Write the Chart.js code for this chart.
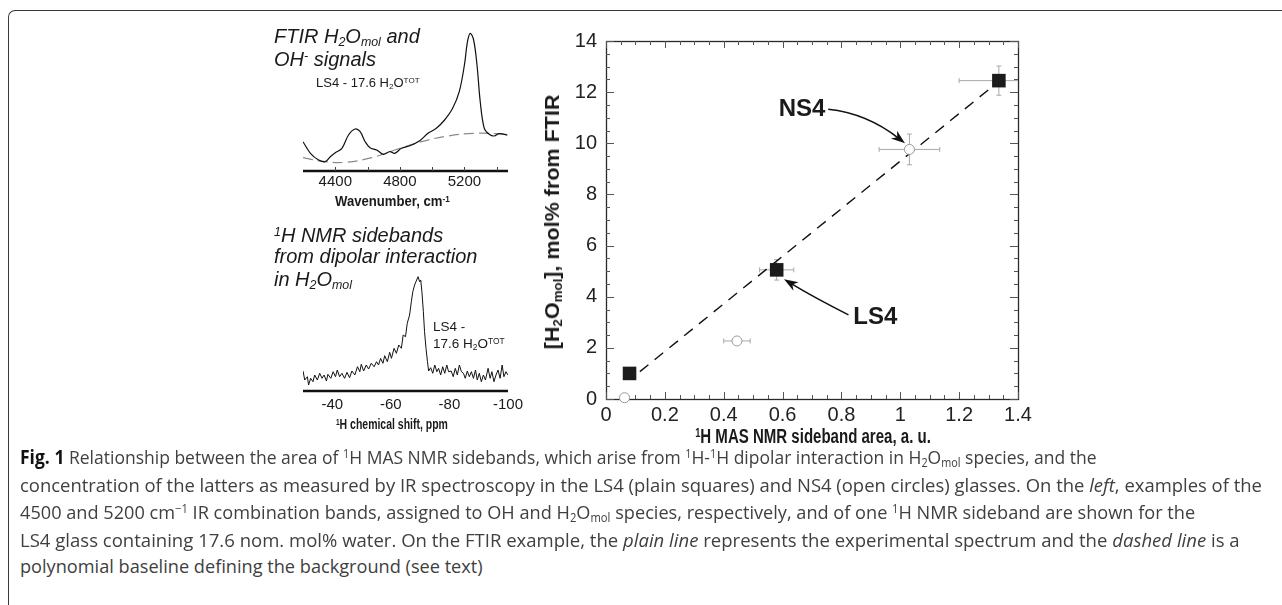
<!DOCTYPE html>
<html>
<head>
<meta charset="utf-8">
<title>Fig. 1</title>
<script src="https://cdn.jsdelivr.net/npm/chart.js@4.4.1/dist/chart.umd.min.js"></script>
<style>
  body { margin: 0; background: #fff; }
  #page { position: relative; width: 1282px; height: 605px; overflow: hidden; font-family: "Liberation Sans", Arial, sans-serif; color: #1a1a1a; }
  #frame { position: absolute; left: 8px; top: 10px; width: 1400px; height: 800px; border-left: 1.5px solid #3a3a3a; border-top: 1.5px solid #3a3a3a; border-top-left-radius: 7px; }
  canvas { position: absolute; }
  .t { position: absolute; white-space: nowrap; line-height: 1; transform-origin: 0 50%; }
  .it { font-style: italic; }
  .b { font-weight: bold; }
  sub { font-size: 0.62em; vertical-align: -0.28em; line-height: 0; }
  sup { font-size: 0.62em; vertical-align: 0.5em; line-height: 0; }
  .cap { font-family: "Open Sans", "Liberation Sans", sans-serif; font-size: 19px; color: #404040; }
  .cap b { color: #111; }
</style>
</head>
<body>
<div id="page">
  <div id="frame"></div>
  <canvas id="ftir" width="275" height="175" style="left:262px;top:20px"></canvas>
  <canvas id="nmr" width="275" height="175" style="left:262px;top:255px"></canvas>
  <canvas id="main" width="500" height="420" style="left:540px;top:20px"></canvas>

  <div class="t it" style="left:274px;top:26px;font-size:20px">FTIR H<sub>2</sub>O<sub>mol</sub> and</div>
  <div class="t it" style="left:274px;top:49px;font-size:20px">OH<sup>-</sup> signals</div>
  <div class="t" style="left:316px;top:76px;font-size:13px">LS4 - 17.6 H<sub>2</sub>O<sup>TOT</sup></div>
  <div class="t b" data-w="115" style="left:335px;top:194px;font-size:14.5px">Wavenumber, cm<sup>-1</sup></div>

  <div class="t it" style="left:274px;top:225px;font-size:20px"><sup>1</sup>H NMR sidebands</div>
  <div class="t it" style="left:274px;top:246px;font-size:20px">from dipolar interaction</div>
  <div class="t it" style="left:274px;top:269px;font-size:20px">in H<sub>2</sub>O<sub>mol</sub></div>
  <div class="t" style="left:433px;top:320px;font-size:13.5px">LS4 -</div>
  <div class="t" style="left:433px;top:337px;font-size:13.5px">17.6 H<sub>2</sub>O<sup>TOT</sup></div>
  <div class="t b" data-w="112" style="left:336px;top:417px;font-size:14.5px"><sup>1</sup>H chemical shift, ppm</div>

  <div class="t b" data-w="236" data-c="1" style="left:813px;top:426px;font-size:20px"><sup>1</sup>H MAS NMR sideband area, a. u.</div>
  <div class="t b" data-w="255" data-r="1" style="left:552px;top:222px;font-size:20px">[H<sub>2</sub>O<sub>mol</sub>], mol% from FTIR</div>

  <div class="t cap" data-w="1077" style="left:20px;top:448px"><b>Fig. 1</b> Relationship between the area of <sup>1</sup>H MAS NMR sidebands, which arise from <sup>1</sup>H-<sup>1</sup>H dipolar interaction in H<sub>2</sub>O<sub>mol</sub> species, and the</div>
  <div class="t cap" data-w="1242" style="left:20px;top:476px">concentration of the latters as measured by IR spectroscopy in the LS4 (plain squares) and NS4 (open circles) glasses. On the <i>left</i>, examples of the</div>
  <div class="t cap" data-w="1175" style="left:20px;top:503px">4500 and 5200 cm<sup>−1</sup> IR combination bands, assigned to OH and H<sub>2</sub>O<sub>mol</sub> species, respectively, and of one <sup>1</sup>H NMR sideband are shown for the</div>
  <div class="t cap" data-w="1220" style="left:20px;top:531px">LS4 glass containing 17.6 nom. mol% water. On the FTIR example, the <i>plain line</i> represents the experimental spectrum and the <i>dashed line</i> is a</div>
  <div class="t cap" style="left:20px;top:557px">polynomial baseline defining the background (see text)</div>
</div>
<script>
// ---- main plot: H2Omol from FTIR vs 1H MAS NMR sideband area ----
const ls4Area = [0.08, 0.58, 1.335];
const ls4H2O = [1.0, 5.05, 12.45];
const ls4AreaErr = [0, 0.058, 0.135];
const ls4H2OErr = [0, 0.40, 0.57];
const ns4Area = [0.063, 0.445, 1.031];
const ns4H2O = [0.05, 2.27, 9.76];
const ns4AreaErr = [0, 0.045, 0.103];
const ns4H2OErr = [0, 0, 0.60];
const fitArea = [0.115, 1.32];
const fitH2O = [1.07, 12.28];
const areaTicks = [0, 0.2, 0.4, 0.6, 0.8, 1, 1.2, 1.4];
const h2oTicks = [0, 2, 4, 6, 8, 10, 12, 14];

// ---- FTIR inset ----
const ftirWn = [4200, 4246, 4297, 4338, 4369, 4400, 4441, 4482, 4523, 4554, 4585, 4615, 4657, 4697, 4738, 4769,
  4810, 4862, 4923, 4974, 5026, 5077, 5127, 5168, 5200, 5219, 5236, 5257, 5278, 5298, 5323, 5354, 5385, 5415, 5466];
const ftirAbs = [0.293, 0.177, 0.11, 0.093, 0.143, 0.183, 0.227, 0.36, 0.42, 0.393, 0.293, 0.233, 0.21, 0.167, 0.193, 0.177,
  0.227, 0.253, 0.303, 0.377, 0.427, 0.51, 0.627, 0.793, 1.06, 1.293, 1.377, 1.31, 1.06, 0.693, 0.427, 0.367, 0.35, 0.373, 0.36];
const baseWn = [4200, 4338, 4462, 4626, 4769, 4934, 5097, 5262, 5466];
const baseAbs = [0.133, 0.093, 0.087, 0.133, 0.21, 0.293, 0.35, 0.377, 0.37];
const ftirTicks = [4400, 4800, 5200];
const ftirMinor = [4400, 4600, 4800, 5000, 5200, 5400];

// ---- 1H NMR sideband inset ----
const nmrShift = [-30.0, -30.6, -31.5, -31.9, -32.6, -33.4, -34.0, -34.9, -35.7, -36.5, -37.2, -38.0, -38.5, -39.5,
  -40.3, -41.1, -41.7, -42.5, -43.3, -44.2, -45.0, -45.9, -46.7, -47.7, -48.6, -49.4, -49.9, -50.7, -51.6, -52.4,
  -53.3, -54.3, -55.1, -55.8, -56.5, -57.3, -57.9, -58.8, -59.6, -60.2, -61.1, -61.9, -62.7, -63.6, -64.2, -65.0,
  -65.6, -66.4, -67.0, -67.5, -68.1, -68.8, -69.3, -69.8, -70.2, -70.6, -71.1, -71.5, -72.0, -72.5, -72.9, -73.6,
  -74.3, -75.0, -75.7, -76.3, -77.0, -77.7, -78.4, -79.1, -79.7, -80.6, -81.3, -82.0, -82.7, -83.4, -84.1, -84.8,
  -85.4, -86.1, -86.8, -87.5, -88.2, -88.9, -89.5, -90.2, -90.9, -91.6, -92.3, -93.2, -93.9, -94.5, -95.2, -95.9,
  -96.6, -97.3, -98.0, -98.6, -99.3, -100.0];
const nmrInt = [2.00, 1.10, 1.43, 0.60, 1.27, 0.93, 1.60, 1.10, 1.77, 1.27, 1.60, 1.00, 1.67, 1.27,
  1.93, 1.43, 2.10, 1.43, 1.77, 1.27, 1.87, 1.33, 2.00, 1.60, 2.43, 1.93, 2.67, 2.00, 2.60, 2.20,
  2.77, 2.43, 2.93, 2.60, 3.27, 2.77, 3.53, 2.93, 3.87, 3.27, 4.27, 3.77, 4.60, 4.27, 5.60, 5.43,
  6.77, 7.60, 8.93, 9.93, 10.60, 11.10, 11.43, 10.93, 11.10, 9.93, 7.93, 5.93, 4.27, 2.93, 2.00, 2.33,
  1.77, 2.60, 1.93, 2.27, 1.60, 2.43, 1.77, 2.60, 1.93, 2.00, 1.43, 2.27, 1.60, 2.60, 1.93, 1.77,
  1.27, 2.00, 1.43, 1.93, 1.27, 2.10, 1.10, 1.77, 0.93, 1.60, 1.10, 2.27, 1.27, 1.93, 0.93, 1.60,
  2.10, 1.27, 2.60, 1.43, 1.93, 1.60];
const nmrTicks = [-40, -60, -80, -100];

// annotation anchors, in data units
const ns4Label = [0.666, 11.33];
const ns4Arrow = [[0.755, 11.33], [0.886, 11.17], [1.016, 10.0]];
const ls4Label = [0.915, 3.19];
const ls4Arrow = [[0.824, 3.29], [0.71, 3.95], [0.605, 4.68]];

const pts = (xs, ys) => xs.map((x, i) => ({ x, y: ys[i] }));
Chart.defaults.font.family = '"Liberation Sans", Arial, sans-serif';

const common = {
  animation: false,
  responsive: false,
  events: [],
  plugins: { legend: { display: false }, tooltip: { enabled: false } }
};

const line = (ctx, x1, y1, x2, y2) => {
  ctx.beginPath(); ctx.moveTo(x1, y1); ctx.lineTo(x2, y2); ctx.stroke();
};

const drawArrow = (ctx, sx, sy, [p0, c, p1]) => {
  const P0 = { x: sx.getPixelForValue(p0[0]), y: sy.getPixelForValue(p0[1]) };
  const C = { x: sx.getPixelForValue(c[0]), y: sy.getPixelForValue(c[1]) };
  const P1 = { x: sx.getPixelForValue(p1[0]), y: sy.getPixelForValue(p1[1]) };
  const ang = Math.atan2(P1.y - C.y, P1.x - C.x);
  const L = 14, W = 5;
  const ux = Math.cos(ang), uy = Math.sin(ang);
  const end = { x: P1.x - ux * L * 0.6, y: P1.y - uy * L * 0.6 };
  ctx.beginPath();
  ctx.moveTo(P0.x, P0.y);
  ctx.quadraticCurveTo(C.x, C.y, end.x, end.y);
  ctx.stroke();
  ctx.beginPath();
  ctx.moveTo(P1.x, P1.y);
  ctx.lineTo(P1.x - ux * L - uy * W, P1.y - uy * L + ux * W);
  ctx.lineTo(P1.x - ux * L * 0.7, P1.y - uy * L * 0.7);
  ctx.lineTo(P1.x - ux * L + uy * W, P1.y - uy * L - ux * W);
  ctx.closePath();
  ctx.fill();
};

const mainDecor = {
  id: 'mainDecor',
  beforeDatasetsDraw(chart) {
    const { ctx, chartArea: a, scales: { x, y } } = chart;
    ctx.save();
    // frame
    ctx.strokeStyle = '#2a2a2a';
    ctx.lineWidth = 1.3;
    ctx.strokeRect(Math.round(a.left) + 0.5, Math.round(a.top) + 0.5, Math.round(a.right - a.left), Math.round(a.bottom - a.top));
    // inward ticks on all four sides
    ctx.strokeStyle = '#555';
    ctx.lineWidth = 1;
    for (let i = 0; i <= 28; i++) {
      const p = Math.round(x.getPixelForValue(i * 0.05)) + 0.5;
      const L = i % 4 === 0 ? 7 : 4;
      line(ctx, p, a.bottom, p, a.bottom - L);
      line(ctx, p, a.top, p, a.top + L);
    }
    for (let i = 0; i <= 28; i++) {
      const p = Math.round(y.getPixelForValue(i * 0.5)) + 0.5;
      const L = i % 4 === 0 ? 8 : 4;
      line(ctx, a.left, p, a.left + L, p);
      line(ctx, a.right, p, a.right - L, p);
    }
    // error bars
    ctx.save();
    ctx.beginPath();
    ctx.rect(a.left, a.top, a.right - a.left, a.bottom - a.top);
    ctx.clip();
    ctx.strokeStyle = '#a8a8a8';
    ctx.lineWidth = 1;
    const bars = (xs, ys, ex, ey) => xs.forEach((xv, i) => {
      const px = x.getPixelForValue(xv), py = y.getPixelForValue(ys[i]);
      if (ex[i] > 0) {
        const l = x.getPixelForValue(xv - ex[i]), r = x.getPixelForValue(xv + ex[i]);
        line(ctx, l, py, r, py);
        line(ctx, l, py - 2.5, l, py + 2.5);
        line(ctx, r, py - 2.5, r, py + 2.5);
      }
      if (ey[i] > 0) {
        const t = y.getPixelForValue(ys[i] + ey[i]), b = y.getPixelForValue(ys[i] - ey[i]);
        line(ctx, px, t, px, b);
        line(ctx, px - 2.5, t, px + 2.5, t);
        line(ctx, px - 2.5, b, px + 2.5, b);
      }
    });
    bars(ns4Area, ns4H2O, ns4AreaErr, ns4H2OErr);
    bars(ls4Area, ls4H2O, ls4AreaErr, ls4H2OErr);
    ctx.restore();
    ctx.restore();
  },
  afterDatasetsDraw(chart) {
    const { ctx, scales: { x, y } } = chart;
    ctx.save();
    ctx.strokeStyle = '#111';
    ctx.fillStyle = '#111';
    ctx.lineWidth = 1.5;
    drawArrow(ctx, x, y, ns4Arrow);
    drawArrow(ctx, x, y, ls4Arrow);
    ctx.font = 'bold 24px "Liberation Sans", Arial, sans-serif';
    ctx.textAlign = 'center';
    ctx.textBaseline = 'middle';
    ctx.fillStyle = '#1a1a1a';
    ctx.fillText('NS4', x.getPixelForValue(ns4Label[0]), y.getPixelForValue(ns4Label[1]));
    ctx.fillText('LS4', x.getPixelForValue(ls4Label[0]), y.getPixelForValue(ls4Label[1]));
    ctx.restore();
  }
};

new Chart(document.getElementById('main'), {
  type: 'scatter',
  data: {
    datasets: [
      { data: pts(ls4Area, ls4H2O), pointStyle: 'rect', pointRadius: 9.6, backgroundColor: '#1c1c1c', borderColor: '#1c1c1c', borderWidth: 0, clip: false },
      { data: pts(ns4Area, ns4H2O), pointStyle: 'circle', pointRadius: 5, backgroundColor: '#fff', borderColor: '#9a9a9a', borderWidth: 1, clip: false },
      { data: pts(fitArea, fitH2O), showLine: true, pointRadius: 0, borderColor: '#111', borderWidth: 1.4, borderDash: [11, 8] }
    ]
  },
  options: {
    ...common,
    layout: { padding: { top: 21, right: 22, bottom: 11, left: 0 } },
    scales: {
      x: {
        type: 'linear', min: 0, max: 1.4,
        afterBuildTicks: s => { s.ticks = areaTicks.map(v => ({ value: v })); },
        afterFit: s => { s.height = 30; },
        grid: { display: false, drawTicks: false }, border: { display: false },
        ticks: { padding: 4, color: '#222', font: { size: 20 }, maxRotation: 0, autoSkip: false, callback: v => String(v) }
      },
      y: {
        type: 'linear', min: 0, max: 14,
        afterBuildTicks: s => { s.ticks = h2oTicks.map(v => ({ value: v })); },
        afterFit: s => { s.width = 66; },
        grid: { display: false, drawTicks: false }, border: { display: false },
        ticks: { padding: 9, color: '#222', font: { size: 20 }, autoSkip: false, callback: v => String(v) }
      }
    }
  },
  plugins: [mainDecor]
});

// inset axis: thick bottom line and small upward ticks
const insetAxis = (minor) => ({
  id: 'insetAxis',
  beforeDatasetsDraw(chart) {
    const { ctx, chartArea: a, scales: { x } } = chart;
    ctx.save();
    ctx.strokeStyle = '#111';
    ctx.lineWidth = 2.4;
    line(ctx, a.left, a.bottom, a.right, a.bottom);
    ctx.lineWidth = 1;
    ctx.strokeStyle = '#444';
    minor.forEach(v => {
      const p = Math.round(x.getPixelForValue(v)) + 0.5;
      line(ctx, p, a.bottom, p, a.bottom - 4);
    });
    ctx.restore();
  }
});

const insetX = (min, max, ticks, pad, h, reverse) => ({
  type: 'linear', min, max, reverse,
  afterBuildTicks: s => { s.ticks = ticks.map(v => ({ value: v })); },
  afterFit: s => { s.height = h; },
  grid: { display: false, drawTicks: false }, border: { display: false },
  ticks: { padding: pad, color: '#1a1a1a', font: { size: 15 }, maxRotation: 0, autoSkip: false, callback: v => String(v) }
});

new Chart(document.getElementById('ftir'), {
  type: 'scatter',
  data: {
    datasets: [
      { data: pts(ftirWn, ftirAbs), showLine: true, pointRadius: 0, borderColor: '#111', borderWidth: 1.2, tension: 0.35 },
      { data: pts(baseWn, baseAbs), showLine: true, pointRadius: 0, borderColor: '#8a8a8a', borderWidth: 1.2, borderDash: [10, 5], tension: 0.4 }
    ]
  },
  options: {
    ...common,
    layout: { padding: { top: 10, right: 29, bottom: 2, left: 41 } },
    scales: {
      x: insetX(4200, 5470, ftirTicks, 2, 22, false),
      y: { display: false, min: 0, max: 1.41 }
    }
  },
  plugins: [insetAxis(ftirMinor)]
});

new Chart(document.getElementById('nmr'), {
  type: 'scatter',
  data: {
    datasets: [
      { data: pts(nmrShift, nmrInt), showLine: true, pointRadius: 0, borderColor: '#111', borderWidth: 1, tension: 0 }
    ]
  },
  options: {
    ...common,
    layout: { padding: { top: 15, right: 29, bottom: 9, left: 41 } },
    scales: {
      x: insetX(-100, -30, nmrTicks, 5, 30, true),
      y: { display: false, min: 0, max: 12.1 }
    }
  },
  plugins: [insetAxis([])]
});

// squeeze text blocks to the widths measured on the figure
const capK = [];
document.querySelectorAll('[data-w]').forEach(el => {
  const k = +el.dataset.w / el.offsetWidth;
  if (el.classList.contains('cap')) capK.push(k);
  if (el.dataset.r) {
    el.style.transformOrigin = '50% 50%';
    el.style.transform = `translate(-50%, -50%) rotate(-90deg) scaleX(${k})`;
  } else if (el.dataset.c) {
    el.style.transformOrigin = '50% 50%';
    el.style.transform = `translateX(-50%) scaleX(${k})`;
  } else {
    el.style.transform = `scaleX(${k})`;
  }
});
const meanK = capK.reduce((s, k) => s + k, 0) / capK.length;
document.querySelectorAll('.cap:not([data-w])').forEach(el => {
  el.style.transform = `scaleX(${meanK})`;
});
</script>
</body>
</html>
